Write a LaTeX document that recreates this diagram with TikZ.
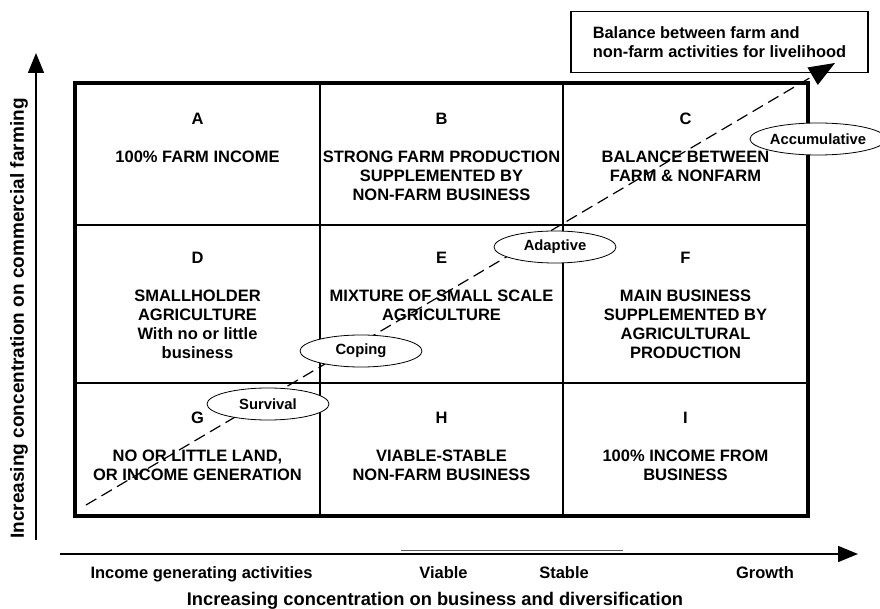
\documentclass[tikz,border=0pt]{standalone}
\usepackage{fontspec}
\setmainfont{Liberation Sans}
\usetikzlibrary{arrows.meta,shapes.geometric}

\tikzset{
  cellText/.style={anchor=north, align=center, inner sep=0pt, font=\bfseries\fontsize{16.5}{19}\selectfont},
  phaseEllipse/.style={ellipse, draw, fill=white, line width=0.8pt, minimum width=122pt, minimum height=32pt, inner sep=0pt, font=\bfseries\fontsize{14.8}{17}\selectfont},
  axisLabel/.style={anchor=base, inner sep=0pt, font=\bfseries\fontsize{16.5}{19}\selectfont},
  axisArrow/.style={line width=1.6pt, -{Triangle[length=20pt,width=16pt]}},
}

\begin{document}
\begin{tikzpicture}[x=1pt, y=-1pt]
    \useasboundingbox (0,0) rectangle (880,609);

    % the nine cells
    \draw[line width=2pt] (320,83) -- (320,516);
    \draw[line width=2pt] (563,83) -- (563,516);
    \draw[line width=2pt] (75,225) -- (808,225);
    \draw[line width=2pt] (75,383) -- (808,383);
    \draw[line width=4.5pt] (75,83) rectangle (808,516);

    \node[cellText] (cellA) at (197.5,113) {A\\[19pt]100\% FARM INCOME};
    \node[cellText] (cellB) at (441.5,113) {B\\[19pt]STRONG FARM PRODUCTION\\SUPPLEMENTED BY\\NON-FARM BUSINESS};
    \node[cellText] (cellC) at (685.5,113) {C\\[19pt]BALANCE BETWEEN\\FARM \& NONFARM};

    \node[cellText] (cellD) at (197.5,252) {D\\[19pt]SMALLHOLDER\\AGRICULTURE\\With no or little\\business};
    \node[cellText] (cellE) at (441.5,252) {E\\[19pt]MIXTURE OF SMALL SCALE\\AGRICULTURE};
    \node[cellText] (cellF) at (685.5,252) {F\\[19pt]MAIN BUSINESS\\SUPPLEMENTED BY\\AGRICULTURAL\\PRODUCTION};

    \node[cellText] (cellG) at (197.5,411.5) {G\\[19pt]NO OR LITTLE LAND,\\OR INCOME GENERATION};
    \node[cellText] (cellH) at (441.5,411.5) {H\\[19pt]VIABLE-STABLE\\NON-FARM BUSINESS};
    \node[cellText] (cellI) at (685.5,411.5) {I\\[19pt]100\% INCOME FROM\\BUSINESS};

    % goal box
    \node[draw, line width=1.5pt, anchor=north west, minimum width=297pt, minimum height=61pt,
          inner xsep=22pt, align=left, font=\bfseries\fontsize{16.4}{19}\selectfont]
          (goalBox) at (570,11) {Balance between farm and\\non-farm activities for livelihood};

    % pathway
    \coordinate (trendStart) at (86,505);
    \coordinate (trendEnd) at (835,63);
    \draw[dash pattern=on 12pt off 6pt, line width=1.2pt, -{Triangle[length=26pt,width=20pt]}] (trendStart) -- (trendEnd);

    \node[phaseEllipse] (survival) at (268,404) {Survival};
    \node[phaseEllipse] (coping) at (361,351) {Coping};
    \node[phaseEllipse] (adaptive) at (555,247) {Adaptive};
    \node[phaseEllipse] (accumulative) at (818,139) {Accumulative};

    % axes
    \coordinate (yStart) at (36,540);
    \coordinate (yEnd) at (36,53);
    \draw[axisArrow] (yStart) -- (yEnd);
    \node[rotate=90, inner sep=0pt, font=\bfseries\fontsize{19}{22}\selectfont] (yTitle) at (19,318.5)
        {Increasing concentration on commercial farming};

    \coordinate (xStart) at (60,554);
    \coordinate (xEnd) at (858,554);
    \draw[axisArrow] (xStart) -- (xEnd);
    \coordinate (scaleLeft) at (401,550);
    \coordinate (scaleRight) at (623,550);
    \draw[black!65, line width=1pt] (scaleLeft) -- (scaleRight);

    \node[axisLabel] (incomeLabel) at (201.5,578) {Income generating activities};
    \node[axisLabel] (viableLabel) at (443.5,578) {Viable};
    \node[axisLabel] (stableLabel) at (564,578) {Stable};
    \node[axisLabel] (growthLabel) at (765,578) {Growth};
    \node[axisLabel, font=\bfseries\fontsize{18.3}{22}\selectfont] (xTitle) at (435,605)
        {Increasing concentration on business and diversification};
\end{tikzpicture}
\end{document}
